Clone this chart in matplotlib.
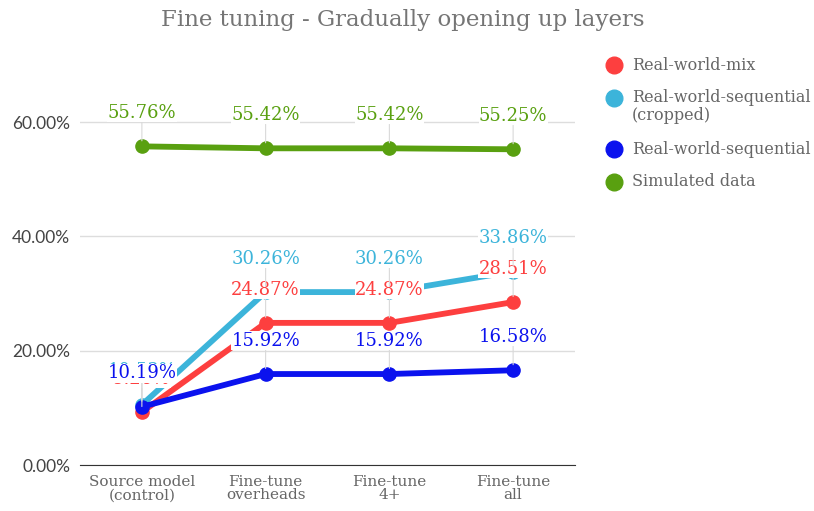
import numpy as np
import matplotlib.pyplot as plt
from matplotlib.lines import Line2D

categories = ["Source model\n(control)", "Fine-tune\noverheads", "Fine-tune\n4+", "Fine-tune\nall"]
series_names = ["Real-world-mix", "Real-world-sequential\n(cropped)", "Real-world-sequential", "Simulated data"]
mix = [9.26, 24.87, 24.87, 28.51]
seq_cropped = [10.53, 30.26, 30.26, 33.86]
seq = [10.19, 15.92, 15.92, 16.58]
simulated = [55.76, 55.42, 55.42, 55.25]
colors = ["#fd3f3f", "#3cb4da", "#0b12ee", "#59a010"]

serif = ["DejaVu Serif"]

fig = plt.figure(figsize=(8.14, 5.11), dpi=100)
ax = fig.add_axes([80 / 814, 1 - 465 / 511, 495 / 814, 400 / 511])

x = np.arange(len(categories))
data = [mix, seq_cropped, seq, simulated]

# lines and markers
for vals, col in zip(data, colors):
    ax.plot(x, vals, color=col, lw=4.2, marker="o", ms=9.5, solid_capstyle="round", zorder=3)

# data labels with white boxes and thin leader lines
for vals, col in zip(data, colors):
    for xi, v in zip(x, vals):
        ax.annotate(f"{v:.2f}%", (xi, v), xytext=(0, 24), textcoords="offset points",
                    ha="center", va="center", fontsize=13, color=col, family=serif,
                    bbox=dict(boxstyle="square,pad=0.02", fc="white", ec="none"),
                    arrowprops=dict(arrowstyle="-", color="#d9d9d9", lw=0.8, shrinkA=0, shrinkB=4),
                    zorder=5)

ax.set_xlim(-0.5, 3.5)
ax.set_ylim(0, 70)
ax.set_yticks([0, 20, 40, 60])
ax.set_yticklabels(["0.00%", "20.00%", "40.00%", "60.00%"], fontsize=12.5, color="#444444", family="Lato")
ax.set_xticks(x)
ax.set_xticklabels(categories, fontsize=11, color="#666666", family=serif, linespacing=0.95)
ax.tick_params(length=0, pad=7)
ax.grid(True, axis="y", color="#dddddd", lw=1, zorder=0)
for s in ["top", "right", "left"]:
    ax.spines[s].set_visible(False)
ax.spines["bottom"].set_color("#333333")
ax.spines["bottom"].set_zorder(2)

fig.text(403 / 814, 1 - 20 / 511, "Fine tuning - Gradually opening up layers", ha="center", va="center",
         fontsize=16.5, color="#757575", family=serif)

# legend drawn by hand so two-line entries line up on their first line
leg_y = [65, 98, 149, 182]
for name, col, yy in zip(series_names, colors, leg_y):
    fy = 1 - yy / 511
    fig.add_artist(Line2D([614 / 814], [fy], ls="none", marker="o", ms=12, color=col))
    fig.text(632 / 814, fy, name.split("\n")[0], ha="left", va="center", fontsize=11.5,
             color="#666666", family=serif)
    if "\n" in name:
        fig.text(632 / 814, 1 - (yy + 17) / 511, name.split("\n")[1], ha="left", va="center",
                 fontsize=11.5, color="#666666", family=serif)

fig.savefig("out.png", dpi=100)
